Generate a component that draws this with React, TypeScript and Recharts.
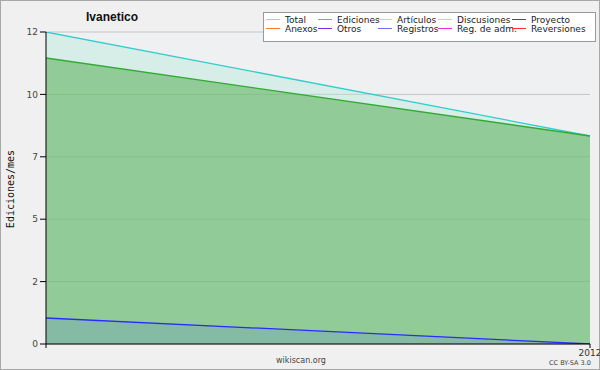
import { Area, AreaChart, CartesianGrid, XAxis, YAxis } from "recharts";

const months = ["2011-12", "2012-01"];
const xTickLabels = ["", "2012"];
const total = [12, 8];
const ediciones = [11, 8];
const registros = [1, 0];
const yMajorTicks = [0, 2.4, 4.8, 7.2, 9.6, 12];
const yMinorTicks = [0, 0.6, 1.2, 1.8, 2.4, 3, 3.6, 4.2, 4.8, 5.4, 6, 6.6, 7.2, 7.8, 8.4, 9, 9.6, 10.2, 10.8, 11.4, 12];

const legendNames = [
  ["Total", "Ediciones", "Artículos", "Discusiones", "Proyecto"],
  ["Anexos", "Otros", "Registros", "Reg. de adm.", "Reversiones"],
];
const legendColors = [
  ["#80e0e0", "#60c060", "#c0f030", "#ffd030", "#505050"],
  ["#ff7830", "#7a30e0", "#7070ff", "#e030e0", "#ff3030"],
];

// text start of each legend column
const legendColX = [285, 337, 397, 457, 531];

const data = months.map((m, i) => ({
  month: m,
  total: total[i],
  ediciones: ediciones[i],
  registros: registros[i],
}));

const sans = "'DejaVu Sans', sans-serif";

export default function App() {
  return (
    <div
      style={{
        position: "absolute",
        left: 0,
        top: 0,
        width: 600,
        height: 370,
        background: "#f0f0f0",
        border: "1px solid #a8a8a8",
        boxSizing: "border-box",
        fontFamily: sans,
      }}
    >
      <div style={{ position: "absolute", left: -1, top: -1 }}>
        <AreaChart width={600} height={370} data={data} margin={{ top: 32, right: 10, bottom: 12, left: 6 }}>
          <CartesianGrid vertical={false} horizontal stroke="#c4c4c4" fill="#eff0f2" yAxisId="main" />
          <XAxis
            dataKey="month"
            tickFormatter={(_v: string, i: number) => xTickLabels[i]}
            stroke="#000"
            tickSize={4}
            height={14}
            tick={{ fill: "#333", fontSize: 9, fontFamily: sans }}
            interval={0}
          />
          <YAxis
            yAxisId="main"
            domain={[0, 12]}
            ticks={yMajorTicks}
            tickFormatter={(v: number) => String(Math.round(v))}
            width={40}
            tickSize={6}
            stroke="#000"
            tick={{ fill: "#444", fontSize: 9, fontFamily: sans }}
            allowDataOverflow
          />
          <YAxis
            yAxisId="minor"
            domain={[0, 12]}
            ticks={yMinorTicks}
            tickFormatter={() => ""}
            width={0}
            tickSize={3}
            axisLine={false}
            stroke="#000"
          />
          <Area
            yAxisId="main"
            type="linear"
            dataKey="total"
            stroke="#33cccc"
            strokeWidth={1.3}
            fill="#a8e8d8"
            fillOpacity={0.35}
            isAnimationActive={false}
          />
          <Area
            yAxisId="main"
            type="linear"
            dataKey="ediciones"
            stroke="#33aa33"
            strokeWidth={1.3}
            fill="#5ab156"
            fillOpacity={0.55}
            isAnimationActive={false}
          />
          <Area
            yAxisId="main"
            type="linear"
            dataKey="registros"
            stroke="#2a2aff"
            strokeWidth={1.3}
            fill="#3040ff"
            fillOpacity={0.12}
            isAnimationActive={false}
          />
        </AreaChart>
      </div>

      <div
        style={{
          position: "absolute",
          left: 0,
          top: 9,
          width: 222,
          textAlign: "center",
          fontFamily: "'Liberation Sans', Arial, sans-serif",
          fontWeight: "bold",
          fontSize: 12,
          color: "#111",
        }}
      >
        Ivanetico
      </div>

      <div
        style={{
          position: "absolute",
          left: 9,
          top: 188,
          transform: "translate(-50%, -50%) rotate(-90deg)",
          fontFamily: "'DejaVu Sans Mono', monospace",
          fontSize: 10,
          color: "#111",
          whiteSpace: "nowrap",
        }}
      >
        Ediciones/mes
      </div>

      <div
        style={{
          position: "absolute",
          left: 0,
          width: 600,
          top: 355,
          textAlign: "center",
          fontSize: 8,
          color: "#444",
        }}
      >
        wikiscan.org
      </div>
      <div
        style={{
          position: "absolute",
          left: 548,
          top: 358,
          fontSize: 6.5,
          color: "#444",
          whiteSpace: "nowrap",
        }}
      >
        CC BY-SA 3.0
      </div>

      <div
        style={{
          position: "absolute",
          left: 262,
          top: 11,
          width: 331,
          height: 28,
          background: "#fff",
          border: "1px solid #999",
        }}
      />
      {legendNames.map((row, r) =>
        row.map((name, c) => (
          <div key={name}>
            <div
              style={{
                position: "absolute",
                left: legendColX[c] - 20,
                top: 18 + r * 9,
                width: 14,
                height: 1,
                background: legendColors[r][c],
              }}
            />
            <div
              style={{
                position: "absolute",
                left: legendColX[c] - 1,
                top: 14 + r * 9,
                lineHeight: "10px",
                fontSize: 9,
                color: "#222",
                whiteSpace: "nowrap",
              }}
            >
              {name}
            </div>
          </div>
        ))
      )}
    </div>
  );
}
